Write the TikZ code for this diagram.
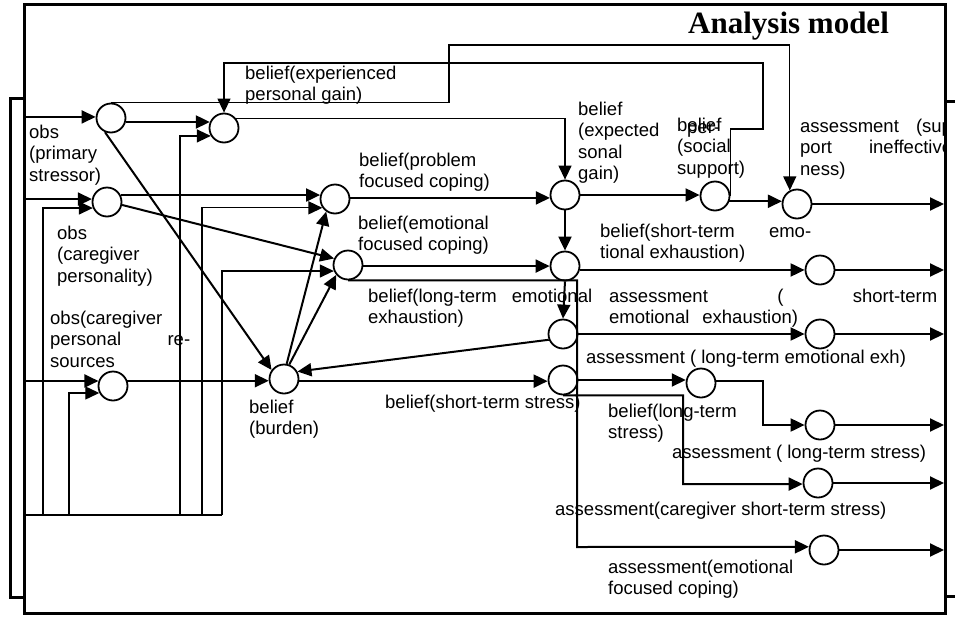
\documentclass[tikz,border=0pt]{standalone}
\usepackage{fontspec}
\setmainfont{Liberation Sans}
\newfontfamily\titlefont{Liberation Serif}
\usetikzlibrary{arrows.meta}

\begin{document}
\begin{tikzpicture}[x=1pt,y=-1pt,
  stateno/.style={circle,draw,line width=1.8pt,minimum size=29pt,inner sep=0pt},
  % multi-line labels are placed by the baseline of their last line
  lbl/.style={anchor=base west,inner sep=0pt,align=left,font=\fontsize{18.5}{21.5}\selectfont},
  link/.style={line width=2pt},
  thinlink/.style={line width=1.3pt},
  tip/.style={-{Triangle[length=14pt,width=13pt]}},
  frame/.style={line width=3pt}
]
\useasboundingbox (0,0) rectangle (955,616);

% frames
\draw[frame] (24,597) -| (10.5,98) -- (24,98);
\draw[frame] (957,101) -| (945.5,596) -- (957,596);
\draw[frame] (24,4.5) rectangle (945.5,613.5);

\coordinate (L) at (24,0);
\coordinate (R) at (944,0);

% states
\node[stateno] (A1) at (111,118) {};
\node[stateno] (A2) at (107,202) {};
\node[stateno] (A3) at (113,386) {};
\node[stateno] (B1) at (224,128) {};
\node[stateno] (B2) at (335,199) {};
\node[stateno] (B3) at (348,265) {};
\node[stateno] (Bu) at (284,379) {};
\node[stateno] (C1) at (565,195) {};
\node[stateno] (C2) at (565,266) {};
\node[stateno] (C3) at (563,334) {};
\node[stateno] (C4) at (563,380) {};
\node[stateno] (D1) at (715,196) {};
\node[stateno] (D2) at (701,383) {};
\node[stateno] (E1) at (797,204) {};
\node[stateno] (E2) at (820,270) {};
\node[stateno] (E3) at (820,334) {};
\node[stateno] (E4) at (820,425) {};
\node[stateno] (E5) at (818,483) {};
\node[stateno] (E6) at (824,550) {};

% inputs from the left
\draw[link,tip] (A1.176 -| L) -- (A1.176);
\draw[link,tip] (A2.169 -| L) -- (A2.169);
\draw[link,tip] (A3.161 -| L) -- (A3.161);

% feedback lines from the bottom
\coordinate (f0) at (24,515);
\coordinate (f1) at (43,515);
\coordinate (f2) at (69,515);
\coordinate (f3) at (180,515);
\coordinate (f4) at (202,515);
\coordinate (f5) at (222,515);
\draw[thinlink] (f0) -- (f5);
\draw[thinlink,tip] (f1) |- (A2.203);
\draw[thinlink,tip] (f2) |- (A3.207);
\draw[thinlink,tip] (f3) |- (B1.211);
\draw[thinlink,tip] (f4) |- (B2.215);
\draw[thinlink,tip] (f5) |- (B3.203);

% first layer
\draw[link,tip] (A1.345) -- (A1.345 -| B1.157);
\draw[link,tip] (A2.27) -- (A2.27 -| B2.165);
\draw[link,tip] (A2.349) -- (B3.155);
\draw[link,tip] (A1.247) -- (Bu.144);
\draw[link,tip] (A3.20) -- (A3.20 -| Bu.188);
\draw[link,tip] (Bu.80) -- (B2.235);
\draw[link,tip] (Bu.70) -- (B3.220);
\draw[link,tip] (C3.202) -- (Bu.29);
\draw[link,tip] (Bu.352) -- (Bu.352 -| C4.184);

% long thin connections over the top
\coordinate (t1) at (449,45);
\draw[thinlink,tip] (A1.north) -| (t1) -| (E1.118);
\coordinate (t2) at (763,129);
\coordinate (t3) at (224,63);
\draw[thinlink,tip] (D1.east) |- (t2) |- (t3) -- (B1.north);
\draw[thinlink,tip] (B1.37) -| (C1.north);

% middle layer
\draw[link,tip] (B2.4) -- (B2.4 -| C1.191);
\draw[link,tip] (B3.356) -- (B3.356 -| C2.west);
\draw[link,tip] (C1.south) -- (C2.north);
\draw[link,tip] (C2.south) -- (C3.north);
\draw[link,tip] (C1.east) -- (C1.east -| D1.west);
\draw[link,tip] (D1.340) -- (D1.340 -| E1.168);
\draw[link,tip] (C2.345) -- (C2.345 -| E2.west);
\draw[link,tip] (C3.east) -- (C3.east -| E3.west);
\draw[link,tip] (C4.east) -- (C4.east -| D2.172);
\coordinate (t4) at (577,547);
\draw[link,tip] (B3.south) -| (t4) -- (E6.168);
\coordinate (t5) at (683,484);
\draw[link,tip] (C4.south) -| (t5) -- (E5.184);
\coordinate (t6) at (763,425);
\draw[link,tip] (D2.8) -| (t6) -- (E4.west);

% outputs to the right
\foreach \n in {E1,E2,E3,E4,E5,E6}
  \draw[link,tip] (\n.east) -- (\n.east -| R);

% labels
\node[anchor=base west,inner sep=0pt,font=\titlefont\bfseries\fontsize{31}{36}\selectfont] (title) at (688,33) {Analysis model};
\node[lbl] (lA1) at (29,181) {obs\\(primary\\stressor)};
\node[lbl] (lA2) at (57,282) {obs\\(caregiver\\personality)};
\node[lbl] (lA3) at (50,367) {obs(caregiver\\\hbox to 140pt{personal\hfill re-}\\sources};
\node[lbl] (lB1) at (245,100.5) {belief(experienced\\personal gain)};
\node[lbl] (lB2) at (359,187.5) {belief(problem\\focused coping)};
\node[lbl] (lB3) at (358,250.5) {belief(emotional\\focused coping)};
\node[lbl] (lC3) at (368,323.5) {\hbox to 224pt{belief(long-term\hfill emotional}\\exhaustion)};
\node[lbl] (lBu) at (249,434.5) {belief\\(burden)};
\node[lbl] (lC4) at (385,408) {belief(short-term stress)};
\node[lbl] (lC1) at (578,179.5) {belief\\(expected\\sonal\\gain)};
\node[lbl] (lC1b) at (687,133) {per-};
\node[lbl] (lD1) at (677,174) {belief\\(social\\support)};
\begin{scope}
  \clip (0,0) rectangle (943,616);
  \node[lbl] (lE1) at (800,175) {\hbox to 158pt{assessment\hfill (sup-}\\\hbox to 158pt{port\hfill ineffective-}\\ness)};
\end{scope}
\node[lbl] (lC2) at (600,258.5) {\hbox to 211pt{belief(short-term\hfill emo-}\\tional exhaustion)};
\node[lbl] (lE2) at (609,323.5) {\hbox to 328pt{assessment\hfill (\hfill short-term}\\emotional\hspace{13pt}exhaustion)};
\node[lbl] (lE3) at (586,363) {assessment ( long-term emotional exh)};
\node[lbl] (lD2) at (608,438.5) {belief(long-term\\stress)};
\node[lbl] (lE4) at (672,458) {assessment ( long-term stress)};
\node[lbl] (lE5) at (555,515) {assessment(caregiver short-term stress)};
\node[lbl] (lE6) at (608,594.5) {assessment(emotional\\focused coping)};
\end{tikzpicture}
\end{document}
